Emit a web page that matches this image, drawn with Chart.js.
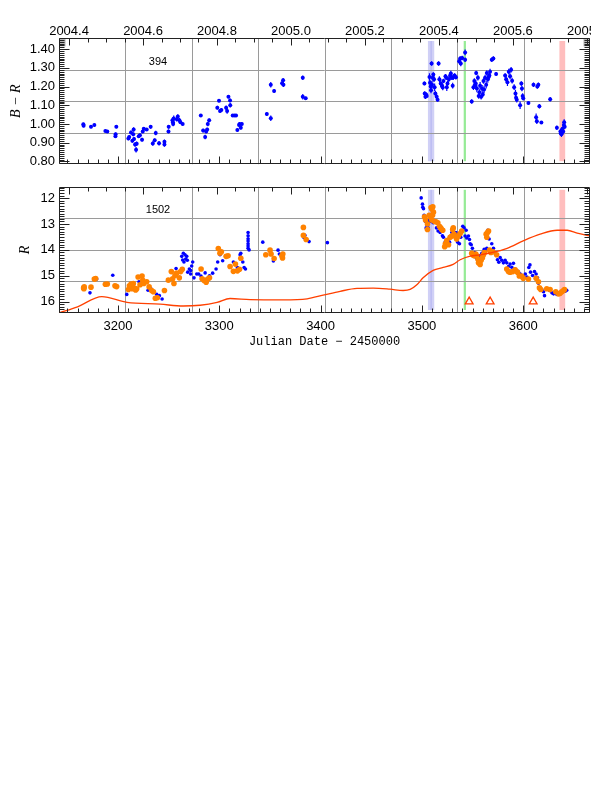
<!DOCTYPE html>
<html>
<head>
<meta charset="utf-8">
<script src="https://cdn.jsdelivr.net/npm/chart.js@4.4.0/dist/chart.umd.min.js"></script>
<style>
  html, body { margin: 0; padding: 0; background: #fff; overflow: hidden; width: 591px; height: 786px; }
  .panel { position: absolute; left: 0; }
  #topPanel { top: 0; }
  #botPanel { top: 175px; }
</style>
</head>
<body>
<div class="panel" id="topPanel"><canvas id="colorChart" width="620" height="176"></canvas></div>
<div class="panel" id="botPanel"><canvas id="magChart" width="620" height="178"></canvas></div>
<script>
// time range of both panels (JD - 2450000)
const jdMin = 3141.7, jdMax = 3666.0;

// B - R colour index: [JD, B-R, error]
const colorIndex = [
  [3165.7,0.999,0.008],[3166.0,0.990,0.008],[3173.3,0.985,0.008],[3176.6,0.994,0.008],[3187.5,0.963,0.006],
  [3189.4,0.960,0.006],[3197.4,0.935,0.010],[3197.6,0.945,0.010],[3198.3,0.985,0.008],
  [3210.2,0.923,0.010],[3211.0,0.930,0.010],[3212.8,0.955,0.010],[3214.1,0.910,0.010],[3215.4,0.970,0.012],
  [3215.0,0.945,0.010],[3215.8,0.920,0.010],[3216.8,0.890,0.012],[3217.8,0.862,0.015],[3218.4,0.895,0.012],
  [3220.4,0.935,0.010],[3221.6,0.940,0.010],[3223.7,0.916,0.010],[3224.4,0.960,0.010],[3225.4,0.974,0.010],
  [3228.3,0.970,0.008],[3232.2,0.985,0.010],[3234.3,0.896,0.012],[3236.2,0.913,0.010],[3237.2,0.952,0.012],
  [3240.5,0.897,0.012],[3245.8,0.890,0.012],[3245.8,0.905,0.012],[3249.8,0.960,0.010],[3250.0,0.985,0.010],
  [3253.7,1.020,0.015],[3254.2,1.010,0.012],[3254.4,1.000,0.012],[3255.0,1.030,0.015],[3258.0,1.025,0.012],
  [3259.0,1.040,0.012],[3260.6,1.020,0.012],[3261.6,1.010,0.010],[3263.8,1.000,0.008],
  [3281.7,1.045,0.008],[3284.0,0.965,0.010],[3286.0,0.930,0.012],[3287.0,0.960,0.010],[3288.0,0.970,0.010],
  [3288.6,1.000,0.012],[3290.0,1.020,0.010],[3298.0,1.087,0.010],[3299.7,1.124,0.008],[3300.7,1.070,0.010],
  [3302.0,1.075,0.010],[3306.7,1.087,0.012],[3307.7,1.070,0.015],[3309.0,1.146,0.008],[3310.6,1.126,0.010],
  [3310.8,1.100,0.012],[3313.2,1.045,0.008],[3315.0,1.045,0.008],[3316.5,1.045,0.008],[3317.8,0.968,0.008],
  [3319.5,0.995,0.010],[3320.0,1.000,0.010],[3321.2,0.980,0.010],[3322.2,1.000,0.010],
  [3346.9,1.053,0.010],[3350.8,1.031,0.015],[3350.8,1.210,0.015],[3354.1,1.177,0.010],[3362.0,1.218,0.012],
  [3363.0,1.234,0.012],[3363.3,1.210,0.012],[3382.4,1.248,0.012],[3382.4,1.146,0.015],[3385.3,1.138,0.008],
  [3502.5,1.217,0.010],[3502.8,1.163,0.012],[3503.5,1.146,0.012],[3504.2,1.158,0.010],[3504.8,1.150,0.010],
  [3507.5,1.251,0.020],[3509.6,1.324,0.012],[3508.0,1.220,0.015],[3508.7,1.200,0.015],[3509.0,1.180,0.015],
  [3510.0,1.210,0.020],[3510.7,1.248,0.015],[3511.3,1.265,0.012],[3512.0,1.240,0.015],[3512.6,1.196,0.020],
  [3513.3,1.163,0.015],[3514.6,1.146,0.015],[3515.5,1.130,0.010],[3516.5,1.324,0.012],[3517.3,1.240,0.015],
  [3518.6,1.217,0.020],[3520.0,1.205,0.015],[3521.3,1.230,0.012],[3520.6,1.195,0.015],[3523.3,1.256,0.012],
  [3524.0,1.248,0.012],[3524.6,1.197,0.020],[3525.3,1.217,0.015],[3526.6,1.240,0.015],[3527.9,1.260,0.015],
  [3528.6,1.270,0.015],[3529.6,1.248,0.012],[3530.4,1.205,0.015],[3531.0,1.250,0.015],[3532.3,1.260,0.012],
  [3533.6,1.250,0.012],[3536.8,1.336,0.012],[3537.8,1.350,0.012],[3538.4,1.324,0.015],[3539.8,1.353,0.012],
  [3542.7,1.383,0.015],[3542.7,1.344,0.012],
  [3549.2,1.120,0.012],[3550.9,1.197,0.015],[3551.8,1.230,0.015],[3552.5,1.210,0.020],[3553.2,1.217,0.020],
  [3553.6,1.273,0.012],[3554.3,1.190,0.020],[3555.3,1.248,0.015],[3556.1,1.150,0.015],[3556.8,1.170,0.015],
  [3557.5,1.205,0.020],[3558.5,1.146,0.015],[3559.5,1.188,0.020],[3560.1,1.158,0.015],[3560.8,1.230,0.015],
  [3561.4,1.185,0.020],[3562.4,1.248,0.015],[3563.5,1.210,0.020],[3564.1,1.273,0.015],[3565.1,1.240,0.020],
  [3565.8,1.250,0.020],[3566.6,1.260,0.015],[3567.3,1.280,0.015],[3569.0,1.344,0.012],[3570.6,1.350,0.012],
  [3573.3,1.268,0.010],[3582.2,1.260,0.012],[3583.2,1.240,0.015],[3584.5,1.223,0.020],[3585.8,1.280,0.015],
  [3587.1,1.255,0.015],[3588.1,1.290,0.015],[3589.1,1.232,0.015],[3591.1,1.197,0.015],[3592.4,1.163,0.020],
  [3593.0,1.140,0.015],[3593.7,1.130,0.015],[3597.0,1.100,0.020],[3598.2,1.217,0.012],[3598.8,1.190,0.015],
  [3599.5,1.150,0.015],[3600.1,1.138,0.012],[3605.2,1.112,0.008],[3610.2,1.210,0.012],[3612.8,1.036,0.020],
  [3613.5,1.015,0.015],[3614.0,1.200,0.012],[3615.0,1.210,0.012],[3616.0,1.095,0.012],[3618.0,1.008,0.008],
  [3626.7,1.132,0.012],[3633.3,0.980,0.012],[3636.8,0.960,0.012],[3637.2,0.950,0.012],[3637.8,0.945,0.015],
  [3638.2,0.968,0.012],[3638.9,0.975,0.012],[3639.5,0.960,0.015],[3640.2,0.994,0.015],[3640.5,1.010,0.015],
  [3641.0,0.985,0.012]
];

// R magnitudes, first set (blue dots): [JD, R]
const rBlue = [
  [3172.3,15.66],[3178.9,15.13],[3194.8,14.98],[3208.6,15.72],[3210.6,15.39],[3220.7,15.23],[3229.6,15.56],
  [3232.5,15.50],[3238.2,15.72],[3240.8,15.77],[3243.5,15.90],
  [3257.3,14.72],[3262.9,14.25],[3263.8,14.39],[3264.5,14.13],[3265.1,14.47],[3266.1,14.19],[3266.8,14.35],
  [3267.8,14.25],[3268.4,14.40],[3268.8,14.86],[3270.4,14.74],[3271.7,14.80],[3272.7,14.62],[3273.7,14.47],
  [3271.7,14.93],[3275.0,15.08],[3277.7,14.93],[3279.6,14.93],[3281.9,15.01],[3286.0,14.89],[3290.3,15.00],
  [3293.4,14.90],[3296.8,14.74],[3298.4,14.47],[3300.7,14.19],[3303.3,14.42],
  [3313.9,14.47],[3315.9,14.80],[3317.9,14.68],[3320.5,14.19],[3321.2,14.13],[3323.2,14.47],[3324.5,14.68],
  [3325.8,14.74],[3328.4,13.33],[3328.4,13.45],[3328.4,13.57],[3328.4,13.66],[3328.4,13.76],[3328.4,13.85],
  [3328.4,13.94],[3329.4,14.00],[3342.9,13.70],[3353.4,14.43],[3358.0,14.01],[3359.3,14.16],
  [3384.5,13.44],[3383.5,13.52],[3388.6,13.68],[3406.7,13.72],
  [3499.3,11.99],[3500.6,12.23],[3500.9,12.35],[3501.6,12.41],[3502.2,12.66],[3503.2,12.78],[3503.5,12.90],
  [3504.9,13.03],[3504.2,13.15],[3505.5,12.84],[3506.2,13.15],[3507.8,12.90],[3511.1,12.95],[3514.4,13.15],
  [3516.0,13.27],[3518.0,13.33],[3520.3,13.45],[3521.3,13.51],
  [3523.0,13.70],[3524.0,13.82],[3526.3,13.58],[3527.3,13.70],[3529.6,13.33],[3533.6,13.33],[3534.6,13.51],
  [3535.4,13.70],[3537.1,13.76],[3538.4,13.51],[3540.4,13.09],[3541.7,13.15],[3542.7,13.46],[3543.7,13.24],
  [3544.3,13.54],[3546.0,13.46],[3547.0,13.60],[3547.7,13.76],[3548.7,13.80],
  [3549.9,13.94],[3552.2,14.10],[3553.6,14.30],[3554.9,14.38],[3556.5,14.23],[3558.2,14.40],[3559.2,14.13],
  [3560.8,14.10],[3561.5,13.98],[3562.5,14.07],[3564.1,13.94],[3565.1,13.24],[3566.4,13.58],[3567.4,14.07],
  [3569.0,13.76],[3570.7,13.94],[3572.7,14.16],[3574.6,14.38],[3576.0,14.48],[3577.3,14.30],[3578.9,14.40],
  [3580.5,14.50],[3582.2,14.40],[3583.8,14.50],[3585.5,14.64],[3587.1,14.55],[3588.8,14.67],[3590.4,14.52],
  [3592.1,14.74],[3593.8,14.80],[3595.4,14.86],[3597.1,14.93],[3598.7,14.99],[3600.4,15.05],[3602.1,14.93],
  [3603.7,15.05],[3605.6,14.68],[3606.7,14.58],[3607.3,14.86],[3609.3,14.99],[3611.2,14.84],[3612.8,14.93],
  [3614.2,15.08],[3615.1,15.29],[3616.8,15.47],[3618.4,15.53],[3620.1,15.62],[3621.1,15.77],[3625.0,15.50],
  [3626.0,15.57],[3628.4,15.66],[3630.0,15.70],[3631.7,15.62],[3633.3,15.72],[3635.0,15.68],[3636.6,15.70],
  [3639.3,15.62],[3641.6,15.60],[3643.0,15.56]
];

// R magnitudes, second set (orange dots): [JD, R]
const rOrange = [
  [3166.0,15.47],[3166.3,15.50],[3166.6,15.43],[3173.3,15.44],[3176.6,15.13],[3177.9,15.11],[3187.5,15.33],
  [3189.4,15.32],[3197.0,15.39],[3198.6,15.42],
  [3210.2,15.53],[3211.2,15.39],[3212.8,15.32],[3214.1,15.50],[3215.1,15.30],[3216.0,15.48],[3217.4,15.55],
  [3218.4,15.50],[3219.8,15.05],[3221.7,15.35],[3223.7,15.01],[3224.4,15.18],[3225.4,15.30],[3228.3,15.23],
  [3230.7,15.43],[3233.2,15.57],[3234.9,15.62],[3236.8,15.87],[3238.8,15.85],[3245.8,15.57],
  [3249.7,15.17],[3252.6,14.84],[3253.9,15.12],[3255.2,15.30],[3256.2,14.99],[3257.8,14.90],[3260.5,15.08],
  [3261.8,14.84],[3263.4,14.75],
  [3282.0,14.74],[3283.0,15.12],[3285.0,15.18],[3287.0,15.25],[3288.6,15.13],[3290.3,15.08],
  [3299.0,13.95],[3300.6,14.13],[3302.0,14.07],[3306.7,14.25],[3308.6,14.23],
  [3310.6,14.64],[3313.9,14.83],[3315.9,14.55],[3317.9,14.81],[3319.9,14.75],[3321.2,14.32],
  [3345.9,14.19],[3350.1,14.01],[3351.1,14.16],[3354.1,14.33],[3361.7,14.23],[3362.7,14.16],[3362.4,14.31],
  [3383.0,13.13],[3383.0,13.44],[3385.7,13.60],
  [3502.6,12.72],[3503.6,12.84],[3505.5,13.00],[3505.5,13.21],[3507.2,12.66],[3508.2,12.72],[3509.1,12.36],
  [3509.8,12.42],[3510.8,12.33],[3511.4,12.54],[3510.5,12.66],[3509.8,12.84],[3512.4,12.90],[3514.0,12.91],
  [3515.7,12.95],[3517.3,13.09],[3518.6,13.15],[3519.6,13.21],[3520.6,13.24],
  [3522.5,13.88],[3523.2,13.76],[3524.6,13.64],[3526.3,13.80],[3527.9,13.51],[3529.5,13.46],[3530.4,13.21],
  [3531.0,13.15],[3531.7,13.39],[3532.7,13.46],[3534.3,13.58],[3536.0,13.46],[3537.8,13.37],[3539.3,13.27],
  [3549.2,14.13],[3550.2,14.19],[3551.5,14.23],[3553.2,14.16],[3554.1,14.23],[3555.3,14.35],[3555.9,14.50],
  [3557.5,14.56],[3558.5,14.40],[3559.8,14.30],[3560.8,14.19],[3561.8,14.10],[3563.5,13.39],[3564.1,13.51],
  [3564.8,13.33],[3565.8,13.27],[3566.8,14.01],[3568.1,14.10],[3570.1,14.07],[3573.8,14.19],
  [3583.8,14.74],[3585.5,14.84],[3587.1,14.86],[3589.8,14.84],[3592.1,14.77],[3594.4,14.86],[3596.2,15.01],
  [3598.5,15.01],[3600.1,15.10],[3605.2,15.13],[3612.8,15.10],[3615.1,15.23],[3616.1,15.47],[3617.4,15.53],
  [3623.3,15.50],[3626.6,15.53],[3632.2,15.62],[3634.9,15.70],[3636.5,15.68],[3638.1,15.62],[3639.8,15.57],
  [3640.8,15.53]
];

// smooth curve in the R panel: [JD, R]
const rCurve = [
  [3141.7,16.44],[3160.0,16.20],[3184.0,15.81],[3208.9,16.03],[3241.5,16.10],[3264.2,16.17],[3281.0,16.14],
  [3297.8,16.03],[3310.6,15.88],[3330.4,15.92],[3363.0,15.93],[3386.7,15.89],[3402.5,15.75],[3419.3,15.60],
  [3436.0,15.49],[3451.9,15.48],[3468.6,15.52],[3481.5,15.57],[3488.4,15.53],[3495.3,15.34],[3501.2,15.08],
  [3511.1,14.79],[3521.0,14.68],[3530.9,14.56],[3537.8,14.38],[3547.7,14.24],[3557.5,14.19],[3567.4,14.12],
  [3584.2,13.94],[3600.0,13.65],[3616.8,13.39],[3633.6,13.24],[3643.5,13.24],[3653.3,13.35],[3666.0,13.46]
];

// open triangles near the bottom of the R panel: [JD, R]
const triangles = [[3546.7,16.0],[3567.4,16.0],[3609.9,16.0]];

// shaded epochs [JD start, JD end]
const blueBands = [[3506.0,3509.6],[3508.6,3512.2]];
const greenBand = [3541.3,3543.5];
const pinkBand = [3635.8,3641.5];

const jdToYear = jd => 2004 + (jd - 3005.5) / 365.25;
const yearToJd = yr => 3005.5 + (yr - 2004) * 365.25;

Chart.defaults.font.family = "'Liberation Sans', Arial, sans-serif";
Chart.defaults.font.size = 13;
Chart.defaults.color = '#000';

function tickLoop(min, max, step, fn) {
  for (let i = Math.ceil(min / step - 1e-6); i * step <= max + 1e-6; i++) fn(i * step);
}

function isMajor(v, major) {
  return Math.abs(v / major - Math.round(v / major)) < 1e-6;
}

function makeDecor(cfg) {
  return {
    id: 'decor_' + cfg.label,
    beforeDatasetsDraw(chart) {
      const {ctx, chartArea: a} = chart;
      const xs = chart.scales.x, ys = chart.scales.y;
      ctx.save();
      // shaded epochs
      const band = (b, col) => {
        const x0 = xs.getPixelForValue(b[0]), x1 = xs.getPixelForValue(b[1]);
        ctx.fillStyle = col;
        ctx.fillRect(x0, a.top + 3, x1 - x0, a.bottom - a.top - 6);
      };
      blueBands.forEach(b => band(b, 'rgba(120,120,230,0.35)'));
      band(greenBand, 'rgb(150,235,150)');
      band(pinkBand, 'rgb(255,190,190)');
      // 8 x 4 grid
      ctx.strokeStyle = '#9a9a9a';
      ctx.lineWidth = 1;
      ctx.beginPath();
      for (let i = 1; i < 8; i++) {
        const x = Math.round(a.left + (a.right - a.left) * i / 8) + 0.5;
        ctx.moveTo(x, a.top); ctx.lineTo(x, a.bottom);
      }
      for (let j = 1; j < 4; j++) {
        const y = Math.round(a.top + (a.bottom - a.top) * j / 4) + 0.5;
        ctx.moveTo(a.left, y); ctx.lineTo(a.right, y);
      }
      ctx.stroke();
      // error bars
      if (cfg.errors) {
        ctx.strokeStyle = '#0000ff';
        ctx.lineWidth = 1.2;
        ctx.beginPath();
        cfg.errors.forEach(p => {
          const x = xs.getPixelForValue(p[0]);
          ctx.moveTo(x, ys.getPixelForValue(p[1] - p[2]));
          ctx.lineTo(x, ys.getPixelForValue(p[1] + p[2]));
        });
        ctx.stroke();
      }
      ctx.restore();
    },
    afterDraw(chart) {
      const {ctx, chartArea: a} = chart;
      const xs = chart.scales.x, ys = chart.scales.y;
      const L = Math.round(a.left) + 0.5, R = Math.round(a.right) - 0.5;
      const T = Math.round(a.top) + 0.5, B = Math.round(a.bottom) - 0.5;
      ctx.save();
      // dense minor ticks run together near the top of the y axes
      if (cfg.topBlock) {
        const yb = ys.getPixelForValue(cfg.topBlock);
        ctx.fillStyle = '#b4b4b4';
        ctx.fillRect(L, T, 6, yb - T);
        ctx.fillRect(R - 6, T, 6, yb - T);
      }
      ctx.strokeStyle = '#222';
      ctx.lineWidth = 1;
      ctx.beginPath();
      ctx.rect(L, T, R - L, B - T);
      // year ticks along the top edge
      tickLoop(jdToYear(xs.min), jdToYear(xs.max), 0.05, v => {
        const x = Math.round(xs.getPixelForValue(yearToJd(v))) + 0.5;
        const len = isMajor(v, 0.2) ? 7 : 4;
        ctx.moveTo(x, T); ctx.lineTo(x, T + len);
      });
      // day ticks along the bottom edge
      tickLoop(xs.min, xs.max, 10, v => {
        const x = Math.round(xs.getPixelForValue(v)) + 0.5;
        const len = isMajor(v, 100) ? 7 : 4;
        ctx.moveTo(x, B); ctx.lineTo(x, B - len);
      });
      // y ticks on both sides
      tickLoop(ys.min, ys.max, cfg.yMinor, v => {
        const y = Math.round(ys.getPixelForValue(v)) + 0.5;
        const len = isMajor(v, cfg.yMajor) ? 10 : 5;
        ctx.moveTo(L, y); ctx.lineTo(L + len, y);
        ctx.moveTo(R, y); ctx.lineTo(R - len, y);
      });
      ctx.stroke();
      // panel label
      ctx.fillStyle = '#000';
      ctx.font = "11px 'Liberation Sans', Arial, sans-serif";
      ctx.textAlign = 'center';
      ctx.textBaseline = 'middle';
      ctx.fillText(cfg.label, a.left + 99, a.top + cfg.labelDy);
      ctx.restore();
    }
  };
}

const common = {
  animation: false,
  responsive: false,
  devicePixelRatio: 1,
  events: [],
  plugins: { legend: { display: false }, tooltip: { enabled: false } }
};

const hiddenGrid = { display: false, drawTicks: false };

new Chart(document.getElementById('colorChart'), {
  type: 'scatter',
  data: {
    datasets: [{
      xAxisID: 'x', yAxisID: 'y',
      data: colorIndex.map(p => ({ x: p[0], y: p[1] })),
      backgroundColor: '#0000ff',
      borderWidth: 0,
      pointRadius: 2
    }]
  },
  options: {
    ...common,
    layout: { padding: { top: 0, right: 30, bottom: 5, left: 0 } },
    scales: {
      x: { type: 'linear', min: jdMin, max: jdMax, display: false },
      yr: {
        type: 'linear', position: 'top',
        min: jdToYear(jdMin), max: jdToYear(jdMax),
        grid: hiddenGrid, border: { display: false },
        ticks: { stepSize: 0.2, includeBounds: false, autoSkip: false, maxRotation: 0, padding: -1,
                 callback: v => v.toFixed(1) },
        afterFit: s => { s.height = 38; }
      },
      y: {
        min: 0.785, max: 1.46,
        grid: hiddenGrid, border: { display: false },
        ticks: { stepSize: 0.1, includeBounds: false, padding: 4, callback: v => v.toFixed(2) },
        title: { display: true, text: 'B − R',
                 font: { family: "'Liberation Serif', serif", style: 'italic', size: 14 },
                 padding: { top: 8, bottom: 0 } },
        afterFit: s => { s.width = 59; }
      }
    }
  },
  plugins: [makeDecor({ label: '394', labelDy: 24, yMinor: 0.01, yMajor: 0.1, topBlock: 1.415, errors: colorIndex })]
});

new Chart(document.getElementById('magChart'), {
  type: 'scatter',
  data: {
    datasets: [
      {
        xAxisID: 'x', yAxisID: 'y', order: 0,
        data: rCurve.map(p => ({ x: p[0], y: p[1] })),
        showLine: true, pointRadius: 0,
        borderColor: '#ff4000', borderWidth: 1.3,
        cubicInterpolationMode: 'monotone'
      },
      {
        xAxisID: 'x', yAxisID: 'y', order: 1,
        data: triangles.map(p => ({ x: p[0], y: p[1] })),
        pointStyle: 'triangle', pointRadius: 4.5,
        borderColor: '#ff4000', borderWidth: 1.3, backgroundColor: '#fff'
      },
      {
        xAxisID: 'x', yAxisID: 'y', order: 2,
        data: rOrange.map(p => ({ x: p[0], y: p[1] })),
        backgroundColor: 'rgb(255,130,0)', borderWidth: 0, pointRadius: 2.8
      },
      {
        xAxisID: 'x', yAxisID: 'y', order: 3,
        data: rBlue.map(p => ({ x: p[0], y: p[1] })),
        backgroundColor: '#0000ff', borderWidth: 0, pointRadius: 1.8
      }
    ]
  },
  options: {
    ...common,
    layout: { padding: { top: 5, right: 30, bottom: 0, left: 0 } },
    scales: {
      x: {
        type: 'linear', position: 'bottom', min: jdMin, max: jdMax,
        grid: hiddenGrid, border: { display: false },
        ticks: { stepSize: 100, includeBounds: false, autoSkip: false, maxRotation: 0, padding: 6,
                 callback: v => String(v) },
        title: { display: true, text: 'Julian Date − 2450000',
                 font: { family: "'Liberation Mono', monospace", size: 12 },
                 padding: { top: 0, bottom: 4 } },
        afterFit: s => { s.height = 40; }
      },
      y: {
        reverse: true, min: 11.56, max: 16.44,
        grid: hiddenGrid, border: { display: false },
        ticks: { stepSize: 1, includeBounds: false, padding: 4, callback: v => String(v) },
        title: { display: true, text: 'R',
                 font: { family: "'Liberation Serif', serif", style: 'italic', size: 14 },
                 padding: { top: 17, bottom: 0 } },
        afterFit: s => { s.width = 59; }
      }
    }
  },
  plugins: [makeDecor({ label: '1502', labelDy: 23, yMinor: 0.1, yMajor: 1 })]
});
</script>
</body>
</html>
